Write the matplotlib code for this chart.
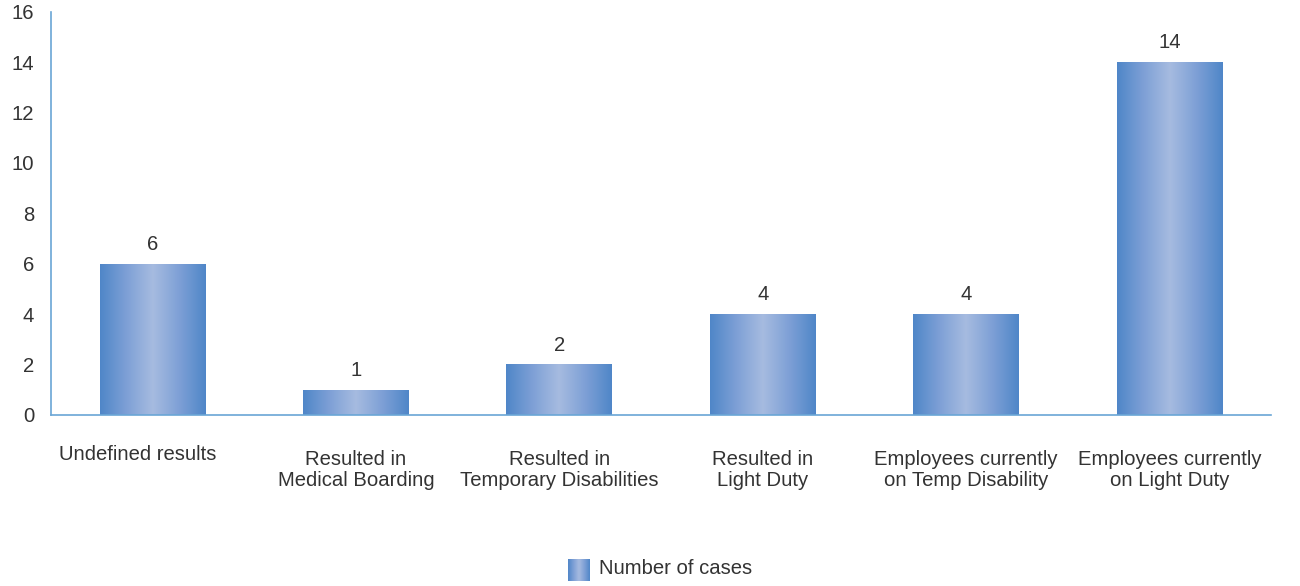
import numpy as np
import matplotlib.pyplot as plt
from matplotlib.colors import LinearSegmentedColormap

categories = ['Undefined results',
              'Resulted in\nMedical Boarding',
              'Resulted in\nTemporary Disabilities',
              'Resulted in\nLight Duty',
              'Employees currently\non Temp Disability',
              'Employees currently\non Light Duty']
cases = [6, 1, 2, 4, 4, 14]
yticks = [0, 2, 4, 6, 8, 10, 12, 14, 16]

plt.rcParams['font.family'] = ['Liberation Sans', 'DejaVu Sans']
txt = '#333333'
axis_col = '#6aa6d6'
fs = 14.6

# dark edges, light middle
cmap = LinearSegmentedColormap.from_list('bar', ['#4f86c8', '#7ea0d6', '#a6bbe0', '#7ea0d6', '#4f86c8'])
grad = np.linspace(0, 1, 256).reshape(1, -1)

fig = plt.figure(figsize=(13, 5.86), dpi=100)
ax = fig.add_axes([0.039, 0.292, 0.939, 0.688])

x = np.arange(len(categories))
bars = ax.bar(x, cases, width=0.52, color='none', edgecolor='none')
for b, v in zip(bars, cases):
    im = ax.imshow(grad, cmap=cmap, aspect='auto', interpolation='bicubic',
                   extent=[b.get_x(), b.get_x() + b.get_width(), 0, b.get_height()], zorder=2)
    im.set_clip_path(b)
    ax.annotate(str(v), (b.get_x() + b.get_width() / 2, v), xytext=(0, 7),
                textcoords='offset points', ha='center', va='bottom', fontsize=fs, color=txt)

ax.set_xlim(-0.5, len(categories) - 0.5)
ax.set_ylim(0, 16)
ax.set_yticks(yticks)
ax.set_yticklabels([str(t) for t in yticks], fontsize=fs, color=txt)
ax.tick_params(axis='y', length=0, pad=12)
ax.set_xticks([])
for i, lab in enumerate(categories):
    dy = -0.075 if i == 0 else -0.088
    dx = -0.07 if i == 0 else 0
    ax.text(i + dx, dy, lab, transform=ax.get_xaxis_transform(), ha='center', va='top',
            fontsize=fs, color=txt, linespacing=1.08)

for s in ['top', 'right']:
    ax.spines[s].set_visible(False)
for s in ['left', 'bottom']:
    ax.spines[s].set_color(axis_col)
    ax.spines[s].set_linewidth(1.2)

# legend swatch with the same gradient
lax = fig.add_axes([568 / 1300, 1 - 581 / 586, 22 / 1300, 22 / 586])
lax.imshow(grad, cmap=cmap, aspect='auto', interpolation='bicubic')
lax.axis('off')
fig.text(599 / 1300, 1 - 568 / 586, 'Number of cases', ha='left', va='center', fontsize=fs, color=txt)

plt.savefig('out.png', dpi=100)
